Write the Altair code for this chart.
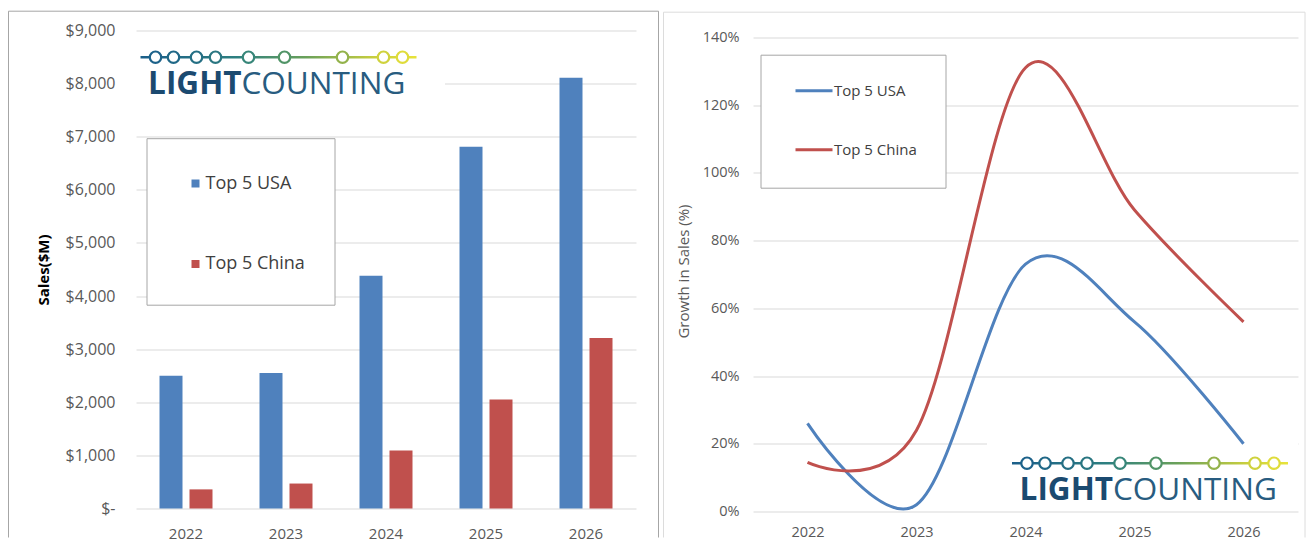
import altair as alt
import pandas as pd

# ---------------- data ----------------
years = ["2022", "2023", "2024", "2025", "2026"]
series = ["Top 5 USA", "Top 5 China"]
sales_usa = [2500, 2550, 4380, 6810, 8110]
sales_china = [360, 470, 1090, 2050, 3210]
growth_usa = [26, 2, 73, 56, 20]
growth_china = [14.5, 24, 131, 89, 56]
sales_ticks = [0, 1000, 2000, 3000, 4000, 5000, 6000, 7000, 8000, 9000]
growth_ticks = [0, 20, 40, 60, 80, 100, 120, 140]
series_colors = ["#4f81bd", "#c0504d"]

sales_df = pd.DataFrame({
    "year": years * 2,
    "series": [series[0]] * 5 + [series[1]] * 5,
    "value": sales_usa + sales_china,
})
growth_df = pd.DataFrame({
    "year": years * 2,
    "series": [series[0]] * 5 + [series[1]] * 5,
    "value": growth_usa + growth_china,
})
one = pd.DataFrame({"k": [0]})

FONT = "Open Sans"
GRID = "#d9d9d9"
LABEL = "#595959"

# ---------------- logo (decoration) ----------------
LOGO_DX = [15, 33, 56, 75, 108, 144, 202, 243, 262]
LOGO_COL = ["#1d628a", "#206887", "#256f84", "#2a7681", "#378679",
            "#519467", "#93b24b", "#cfd23d", "#dfdc3b"]


def logo(x0, y0):
    layers = []
    grad = alt.Gradient(
        gradient="linear", x1=0, x2=1, y1=0, y2=0,
        stops=[alt.GradientStop(color="#1b5f8a", offset=0),
               alt.GradientStop(color="#2e8080", offset=0.35),
               alt.GradientStop(color="#6aa15a", offset=0.6),
               alt.GradientStop(color="#c9cf3e", offset=0.85),
               alt.GradientStop(color="#e8e33a", offset=1)])
    layers.append(alt.Chart(one).mark_rect(fill=grad).encode(
        x=alt.value(x0), x2=alt.value(x0 + 276),
        y=alt.value(y0 - 1.3), y2=alt.value(y0 + 1.3)))
    for dx, c in zip(LOGO_DX, LOGO_COL):
        layers.append(alt.Chart(one).mark_point(
            shape="circle", filled=True, fill="white", stroke=c,
            strokeWidth=2.2, size=130, opacity=1).encode(
            x=alt.value(x0 + dx), y=alt.value(y0)))
    layers.append(alt.Chart(one).mark_text(
        text="LIGHT", font=FONT, fontSize=31.5, fontWeight="bold",
        color="#1b4a70", align="right", baseline="alphabetic").encode(
        x=alt.value(x0 + 101), y=alt.value(y0 + 36.5)))
    layers.append(alt.Chart(one).mark_text(
        text="COUNTING", font=FONT, fontSize=31.5, fontWeight="normal",
        color="#285c80", align="left", baseline="alphabetic").encode(
        x=alt.value(x0 + 101), y=alt.value(y0 + 36.5)))
    return layers


def border(x1, x2, y1, y2, color):
    top = alt.Chart(one).mark_rule(color=color, strokeWidth=1).encode(
        x=alt.value(x1), x2=alt.value(x2), y=alt.value(y1))
    left = alt.Chart(one).mark_rule(color=color, strokeWidth=1).encode(
        x=alt.value(x1), y=alt.value(y1), y2=alt.value(y2))
    right = alt.Chart(one).mark_rule(color=color, strokeWidth=1).encode(
        x=alt.value(x2), y=alt.value(y1), y2=alt.value(y2))
    return [top, left, right]


# ---------------- left panel: sales bars ----------------
LW, LH = 500, 478

bars = alt.Chart(sales_df).mark_bar().encode(
    x=alt.X("year:N", sort=years, title=None,
            scale=alt.Scale(paddingInner=0.47, paddingOuter=0.235),
            axis=alt.Axis(labelAngle=0, domain=False, ticks=False, grid=False,
                          labelPadding=18, labelFont=FONT, labelFontSize=15,
                          labelColor=LABEL)),
    xOffset=alt.XOffset("series:N", sort=series,
                        scale=alt.Scale(paddingInner=0.233, paddingOuter=0)),
    y=alt.Y("value:Q",
            scale=alt.Scale(domain=[0, 9000], nice=False, zero=True),
            axis=alt.Axis(values=sales_ticks,
                          labelExpr="datum.value == 0 ? '$-' : '$' + format(datum.value, ',')",
                          domain=False, ticks=False, grid=True, gridColor=GRID,
                          labelPadding=21, labelFont=FONT, labelFontSize=16,
                          labelColor=LABEL, title="Sales($M)", titleFont=FONT,
                          titleFontSize=15, titleFontWeight="bold",
                          titleColor="#000000", titlePadding=14)),
    color=alt.Color("series:N", sort=series,
                    scale=alt.Scale(domain=series, range=series_colors),
                    legend=alt.Legend(orient="none", legendX=50.5, legendY=144,
                                      title=None, padding=0, rowPadding=62.5,
                                      symbolType="square", symbolSize=64,
                                      symbolStrokeWidth=0, labelFont=FONT,
                                      labelFontSize=18, labelColor="#404040",
                                      labelOffset=1)),
)

left_mask = alt.Chart(one).mark_rect(fill="white").encode(
    x=alt.value(0), x2=alt.value(309), y=alt.value(10), y2=alt.value(70))
left_legend_box = alt.Chart(one).mark_rect(
    fill="white", stroke="#a6a6a6", strokeWidth=1).encode(
    x=alt.value(11), x2=alt.value(199), y=alt.value(108.2), y2=alt.value(274.7))

left = alt.layer(
    left_mask, left_legend_box, bars,
    *logo(4.5, 26.7),
    *border(-127.5, 522.5, -19.3, 507, "#a6a6a6"),
).properties(width=LW, height=LH)

# ---------------- right panel: growth lines ----------------
RW, RH = 545, 481

lines = alt.Chart(growth_df).mark_line(interpolate="cardinal", strokeWidth=3).encode(
    x=alt.X("year:N", sort=years, title=None,
            scale=alt.Scale(type="point", padding=0.5),
            axis=alt.Axis(labelAngle=0, domain=False, ticks=False, grid=False,
                          labelPadding=14, labelFont=FONT, labelFontSize=14.5,
                          labelColor=LABEL)),
    y=alt.Y("value:Q",
            scale=alt.Scale(domain=[0, 142], nice=False, zero=True),
            axis=alt.Axis(values=growth_ticks, labelExpr="datum.value + '%'",
                          domain=False, ticks=False, grid=True, gridColor=GRID,
                          labelPadding=14, labelFont=FONT, labelFontSize=14.5,
                          labelColor=LABEL, title="Growth in Sales (%)",
                          titleFont=FONT, titleFontSize=15,
                          titleFontWeight="normal", titleColor=LABEL,
                          titlePadding=11)),
    color=alt.Color("series:N", sort=series,
                    scale=alt.Scale(domain=series, range=series_colors),
                    legend=alt.Legend(orient="none", legendX=41, legendY=40.2,
                                      title=None, padding=0, rowPadding=31,
                                      symbolType="stroke", symbolSize=1369,
                                      symbolStrokeWidth=3, labelFont=FONT,
                                      labelFontSize=15, labelColor="#404040",
                                      labelOffset=0)),
)

right_mask = alt.Chart(one).mark_rect(fill="white").encode(
    x=alt.value(234), x2=alt.value(RW), y=alt.value(407), y2=alt.value(476))
right_legend_box = alt.Chart(one).mark_rect(
    fill="white", stroke="#a6a6a6", strokeWidth=1).encode(
    x=alt.value(8), x2=alt.value(193), y=alt.value(24.7), y2=alt.value(157.7))

right = alt.layer(
    right_mask, right_legend_box, lines,
    *logo(259, 432.7),
    *border(-89.5, 552, -18.3, 507, "#dcdcdc"),
).properties(width=RW, height=RH)

chart = alt.hconcat(left, right, spacing=4).resolve_scale(
    color="independent", x="independent", y="independent"
).resolve_legend(color="independent").properties(
    padding={"left": 0, "top": 2.5, "right": 0, "bottom": 0},
    background="white",
).configure_view(stroke=None)

chart.save("out.html", embed_options={"renderer": "svg", "actions": False})
